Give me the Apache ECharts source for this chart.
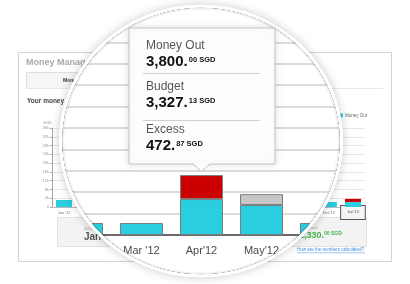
<!DOCTYPE html>
<html>
<head>
<meta charset="utf-8">
<script src="https://cdn.jsdelivr.net/npm/echarts@6/dist/echarts.min.js"></script>
<style>html,body{margin:0;padding:0;background:#fff}#c{width:410px;height:284px}</style>
</head>
<body>
<div id="c"></div>
<script>
// ---------- data ----------
const mainCats = ["Feb '12", "Mar '12", "Apr'12", "May'12", "Jun '12"];
const mainMoneyOut = [560, 560, 1680, 1400, 560];
const mainExcess = [null, null, 1120, null, null];
const mainRemaining = [null, null, null, 510, null];

const smallCats = ["Jan '12", "Feb '12", "Mar '12", "Apr '12", "May '12", "Jun '12", "Jul '12", "Aug '12", "Sep '12", "Oct '12", "Nov '12", "Dec'12", "Jan'13"];
const smallMoneyOut = [3200, null, null, null, null, null, null, null, null, null, null, 2300, 2300];
const smallExcess = [null, null, null, null, null, null, null, null, null, null, null, null, 1400];
const smallTickLabels = ['0', '4k', '8k', '12k', '16k', '20k', '24k', '28k', '32k', '36k'];

const tipLabels = ['Money Out', 'Budget', 'Excess'];
const tipValues = [3800.00, 3327.13, 472.87];
const currency = 'SGD';
const balanceValue = 1330.00;

// ---------- styling ----------
const FONT = 'Liberation Sans, Arial, sans-serif';
const CYAN = '#2acee1', RED = '#cc0000', GREY = '#c6c6c6';
const LENS = { cx: 201, cy: 141, r: 142, sy: 0.96, clipR: 141, rimR0: 136 };

function money(v) {
  const p = v.toFixed(2).split('.');
  return { i: p[0].replace(/\B(?=(\d{3})+(?!\d))/g, ',') + '.', d: p[1] };
}

const chart = echarts.init(document.getElementById('c'), null, { renderer: 'canvas' });

// tooltip graphic
const tipChildren = [
  { type: 'rect', shape: { x: 0, y: 0, width: 146, height: 136 },
    style: { fill: '#fdfdfd', stroke: '#c4c4c4', lineWidth: 1, shadowBlur: 6, shadowColor: 'rgba(0,0,0,0.13)' } },
  { type: 'polygon', shape: { points: [[64, 135], [72.5, 143.5], [81, 135]] }, style: { fill: '#fdfdfd' } },
  { type: 'polyline', shape: { points: [[64, 136], [72.5, 143.5], [81, 136]] }, style: { stroke: '#c4c4c4', fill: null, lineWidth: 1 } }
];
const labY = [18, 59, 102], valY = [34, 75, 118];
tipLabels.forEach((lab, k) => {
  const m = money(tipValues[k]);
  tipChildren.push({ type: 'text', x: 17, y: labY[k],
    style: { text: lab, fontSize: 12, fontFamily: FONT, fill: '#555', verticalAlign: 'middle' } });
  tipChildren.push({ type: 'text', x: 17, y: valY[k],
    style: { text: '{i|' + m.i + '}{d|' + m.d + ' ' + currency + '}', verticalAlign: 'middle',
      rich: { i: { fontSize: 15, fontWeight: 'bold', fontFamily: FONT, fill: '#111' },
              d: { fontSize: 7.5, fontWeight: 'bold', fontFamily: FONT, fill: '#111', verticalAlign: 'top', padding: [1, 0, 0, 1] } } } });
});
[45, 92].forEach(y => tipChildren.push({ type: 'line', shape: { x1: 14, y1: y + 0.5, x2: 131, y2: y + 0.5 }, style: { stroke: '#d0d0d0', lineWidth: 1 } }));

const bal = money(balanceValue);

const graphics = [
  // background panel
  { type: 'rect', z: 0, shape: { x: 18.5, y: 52.5, width: 373, height: 209 }, style: { fill: '#fff', stroke: '#d4d4d4', lineWidth: 1 } },
  { type: 'text', z: 1, x: 26, y: 63, style: { text: 'Money Manager', fontSize: 9, fontWeight: 'bold', fontFamily: FONT, fill: '#a8a8a8', verticalAlign: 'middle' } },
  { type: 'rect', z: 1, shape: { x: 26.5, y: 72.5, width: 110, height: 16 }, style: { fill: '#f6f6f6', stroke: '#dedede', lineWidth: 1 } },
  { type: 'line', z: 1, shape: { x1: 26, y1: 88.5, x2: 383, y2: 88.5 }, style: { stroke: '#e8e8e8', lineWidth: 1 } },
  { type: 'text', z: 1, x: 63, y: 81, style: { text: 'Money Flow', fontSize: 5, fontWeight: 'bold', fontFamily: FONT, fill: '#333', verticalAlign: 'middle' } },
  { type: 'text', z: 1, x: 27, y: 101, style: { text: 'Your money flow', fontSize: 6.5, fontWeight: 'bold', fontFamily: FONT, fill: '#444', verticalAlign: 'middle' } },
  { type: 'rect', z: 1, shape: { x: 57.5, y: 217.5, width: 309, height: 29 }, style: { fill: '#f3f3f3', stroke: '#e2e2e2', lineWidth: 1 } },
  { type: 'text', z: 1, x: 84, y: 229, style: { text: '2012', fontSize: 4, fontFamily: FONT, fill: '#999', verticalAlign: 'middle' } },
  { type: 'text', z: 1, x: 84, y: 237, style: { text: 'Jan', fontSize: 10, fontWeight: 'bold', fontFamily: FONT, fill: '#555', verticalAlign: 'middle' } },
  { type: 'text', z: 1, x: 303, y: 228, style: { text: 'Balance', fontSize: 4, fontFamily: FONT, fill: '#999', verticalAlign: 'middle' } },
  { type: 'text', z: 1, x: 299, y: 236, style: { text: '{i|' + bal.i + '}{d|' + bal.d + ' ' + currency + '}', verticalAlign: 'middle',
      rich: { i: { fontSize: 9, fontWeight: 'bold', fontFamily: FONT, fill: '#3cb54a' },
              d: { fontSize: 5, fontWeight: 'bold', fontFamily: FONT, fill: '#3cb54a', verticalAlign: 'top' } } } },
  { type: 'text', z: 1, x: 297, y: 250, style: { text: 'How are the numbers calculated?', fontSize: 4.5, fontFamily: FONT, fill: '#3b8fe0', verticalAlign: 'middle' } },
  { type: 'line', z: 1, shape: { x1: 297, y1: 252.8, x2: 365, y2: 252.8 }, style: { stroke: '#3b8fe0', lineWidth: 0.5 } },
  // lens body
  { type: 'circle', z: 10, x: LENS.cx, y: LENS.cy, scaleY: LENS.sy, shape: { cx: 0, cy: 0, r: LENS.r },
    style: { fill: '#fff', shadowBlur: 10, shadowColor: 'rgba(0,0,0,0.22)' } },
  // lens rim
  { type: 'ring', z: 30, x: LENS.cx, y: LENS.cy, scaleY: LENS.sy, shape: { cx: 0, cy: 0, r: LENS.r, r0: LENS.rimR0 },
    style: { fill: { type: 'radial', x: 0.5, y: 0.5, r: 0.5, colorStops: [
      { offset: LENS.rimR0 / LENS.r, color: 'rgba(0,0,0,0)' },
      { offset: 0.975, color: 'rgba(0,0,0,0.08)' },
      { offset: 0.98, color: 'rgba(255,255,255,1)' },
      { offset: 1, color: 'rgba(255,255,255,1)' }] } } },
  { type: 'group', z: 40, x: 129, y: 28, children: tipChildren.map(c => Object.assign({ z: 40 }, c)) }
];

const option = {
  animation: false,
  textStyle: { fontFamily: FONT },
  legend: { data: ['Money Out'], left: 339, top: 113, itemWidth: 4, itemHeight: 4, icon: 'rect', padding: 0, z: 3,
    itemStyle: { color: CYAN, borderWidth: 0 },
    textStyle: { fontSize: 4.5, color: '#666', padding: [0, 0, 0, -3] } },
  grid: [
    { left: 51.5, right: 58.5, top: 42.4, bottom: 49 },
    { left: 52, right: 45, top: 128, bottom: 77 }
  ],
  xAxis: [
    { type: 'category', gridIndex: 0, data: mainCats, z: 11,
      axisLine: { lineStyle: { color: '#444', width: 1.5 } }, axisTick: { show: false },
      axisLabel: { fontSize: 11, color: '#4a4a4a', margin: 10, interval: 0 } },
    { type: 'category', gridIndex: 1, data: smallCats, z: 2,
      axisLine: { lineStyle: { color: '#bbb', width: 1 } }, axisTick: { show: false },
      axisLabel: { fontSize: 4, color: '#777', margin: 5.5, interval: 0, verticalAlign: 'middle',
        formatter: (v, i) => i === smallCats.length - 1 ? '{sel|' + v + '}' : v,
        rich: { sel: { fontSize: 4, color: '#555', borderColor: '#555', borderWidth: 1, backgroundColor: '#f4f4f4', padding: [4, 6, 5, 6] } } } }
  ],
  yAxis: [
    { type: 'value', gridIndex: 0, min: 0, max: 9000, interval: 1000, z: 11,
      axisLabel: { show: false }, axisLine: { show: false }, axisTick: { show: false },
      splitLine: { lineStyle: { color: '#cfcfcf', width: 1.5 } } },
    { type: 'value', gridIndex: 1, min: 0, max: 36000, interval: 4000, z: 2,
      name: 'SGD', nameLocation: 'end', nameGap: 3, nameTextStyle: { fontSize: 4, color: '#999', align: 'right' },
      axisLine: { show: true, lineStyle: { color: '#aaa' } }, axisTick: { show: true, length: 2, lineStyle: { color: '#aaa' } },
      axisLabel: { fontSize: 4, color: '#999', margin: 3, formatter: v => smallTickLabels[Math.round(v / 4000)] },
      splitLine: { lineStyle: { color: '#e6e6e6', width: 1 } } }
  ],
  series: [
    { name: 'Money Out', type: 'bar', xAxisIndex: 0, yAxisIndex: 0, stack: 'm', data: mainMoneyOut, barWidth: 43, z: 12,
      itemStyle: { color: CYAN, borderColor: '#7d7d7d', borderWidth: 1 } },
    { name: 'Excess', type: 'bar', xAxisIndex: 0, yAxisIndex: 0, stack: 'm', data: mainExcess, barWidth: 43, z: 12,
      itemStyle: { color: RED, borderColor: '#7d7d7d', borderWidth: 1 } },
    { name: 'Remaining', type: 'bar', xAxisIndex: 0, yAxisIndex: 0, stack: 'm', data: mainRemaining, barWidth: 43, z: 12,
      itemStyle: { color: GREY, borderColor: '#7d7d7d', borderWidth: 1 } },
    { name: 'Money Out', type: 'bar', xAxisIndex: 1, yAxisIndex: 1, stack: 's', data: smallMoneyOut, barWidth: 16, z: 3,
      itemStyle: { color: CYAN } },
    { name: 'Excess', type: 'bar', xAxisIndex: 1, yAxisIndex: 1, stack: 's', data: smallExcess, barWidth: 16, z: 3,
      itemStyle: { color: RED } }
  ],
  graphic: { elements: graphics }
};

chart.setOption(option);

// clip the magnified chart to the lens
const MAIN_SERIES = [0, 1, 2];
const zr = chart.getZr();
zr.storage.getRoots().forEach(g => {
  const info = g.__ecComponentInfo;
  if (!info) return;
  const isMain = (info.mainType === 'xAxis' || info.mainType === 'yAxis') ? info.index === 0
    : (info.mainType === 'series' && MAIN_SERIES.indexOf(info.index) >= 0);
  if (isMain) {
    g.setClipPath(new echarts.graphic.Circle({ shape: { cx: 0, cy: 0, r: LENS.clipR }, x: LENS.cx, y: LENS.cy, scaleY: LENS.sy }));
    g.traverse(el => { if (el.markRedraw) el.markRedraw(); });
  }
});
zr.refresh();
</script>
</body>
</html>
